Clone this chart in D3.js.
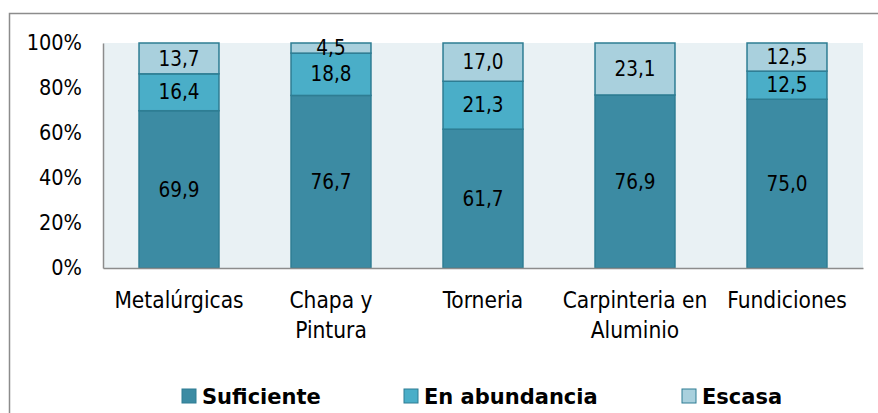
<!DOCTYPE html>
<html>
<head>
<meta charset="utf-8">
<script src="https://cdn.jsdelivr.net/npm/d3@7"></script>
<style>
  body { margin: 0; background: #fff; }
  svg { display: block; font-family: "DejaVu Sans Condensed", "DejaVu Sans", sans-serif; }
</style>
</head>
<body>
<svg id="chart" width="878" height="413"></svg>
<script>
// categories and series (percent)
const categories = ["Metalúrgicas", "Chapa y Pintura", "Torneria", "Carpinteria en Aluminio", "Fundiciones"];
const categoryLines = [["Metalúrgicas"], ["Chapa y", "Pintura"], ["Torneria"], ["Carpinteria en", "Aluminio"], ["Fundiciones"]];
const seriesNames = ["Suficiente", "En abundancia", "Escasa"];
const suficiente = [69.9, 76.7, 61.7, 76.9, 75.0];
const enAbundancia = [16.4, 18.8, 21.3, 0, 12.5];
const escasa = [13.7, 4.5, 17.0, 23.1, 12.5];
const yTicks = [0, 20, 40, 60, 80, 100];

const colors = ["#3c8ba3", "#4aaec8", "#a9d0dd"];
const strokeColor = "#2e7d93";

const svg = d3.select("#chart");
const margin = {top: 43, right: 15, bottom: 145, left: 103};
const width = 863 - margin.left;
const height = 268 - margin.top;

// outer border
svg.append("rect")
  .attr("x", 9.5).attr("y", 13.5)
  .attr("width", 900).attr("height", 500)
  .attr("fill", "none").attr("stroke", "#8c8c8c").attr("stroke-width", 1.5);

const g = svg.append("g").attr("transform", `translate(${margin.left},${margin.top})`);

g.append("rect").attr("width", width).attr("height", height).attr("fill", "#e9f1f4");

const x = d3.scaleBand().domain(categories).range([0, width]).paddingInner(0.474).paddingOuter(0.237);
const y = d3.scaleLinear().domain([0, 100]).range([height, 0]);

const table = categories.map((c, i) => ({cat: c, Suficiente: suficiente[i], "En abundancia": enAbundancia[i], Escasa: escasa[i]}));
const stack = d3.stack().keys(seriesNames)(table);

stack.forEach((layer, si) => {
  const lg = g.append("g");
  const segs = layer.filter(d => d[1] - d[0] > 0);
  lg.selectAll("rect").data(segs).enter().append("rect")
    .attr("x", d => x(d.data.cat))
    .attr("y", d => y(Math.min(d[1], 100)))
    .attr("width", x.bandwidth())
    .attr("height", d => y(d[0]) - y(Math.min(d[1], 100)))
    .attr("fill", colors[si])
    .attr("stroke", strokeColor).attr("stroke-width", 1.5);
  lg.selectAll("text").data(segs).enter().append("text")
    .attr("x", d => x(d.data.cat) + x.bandwidth() / 2)
    .attr("y", d => y((d[0] + d[1]) / 2))
    .attr("dy", "0.35em")
    .attr("text-anchor", "middle")
    .attr("font-size", 20.5)
    .attr("fill", "#000")
    .text(d => d3.format(".1f")(d[1] - d[0]).replace(".", ","));
});

// y axis
const yAxis = g.append("g")
  .call(d3.axisLeft(y).tickValues(yTicks).tickFormat(d => d + "%").tickSize(0).tickPadding(21))
  .attr("font-family", null).attr("font-size", 21.5);
yAxis.select(".domain").attr("stroke", "#8c8c8c").attr("stroke-width", 1.5);
yAxis.selectAll("text").attr("fill", "#000");

// x axis
const xAxis = g.append("g").attr("transform", `translate(0,${height})`)
  .call(d3.axisBottom(x).tickSize(0).tickFormat(""))
  .attr("font-family", null).attr("font-size", 22.5);
xAxis.select(".domain").attr("stroke", "#8c8c8c").attr("stroke-width", 1.5);
xAxis.selectAll(".tick").each(function(d, i) {
  const t = d3.select(this).append("text")
    .attr("text-anchor", "middle").attr("fill", "#000");
  categoryLines[i].forEach((line, li) => {
    t.append("tspan").attr("x", 0).attr("y", 40 + li * 30).text(line);
  });
});

// legend
const legendX = [182, 404, 682];
const legend = svg.append("g").attr("font-family", "'DejaVu Sans', sans-serif");
seriesNames.forEach((name, i) => {
  legend.append("rect")
    .attr("x", legendX[i]).attr("y", 389).attr("width", 14).attr("height", 14)
    .attr("fill", colors[i]).attr("stroke", strokeColor).attr("stroke-width", 1);
  legend.append("text")
    .attr("x", legendX[i] + 20).attr("y", 404)
    .attr("font-size", 21).attr("font-weight", "bold").attr("fill", "#000")
    .text(name);
});
</script>
</body>
</html>
